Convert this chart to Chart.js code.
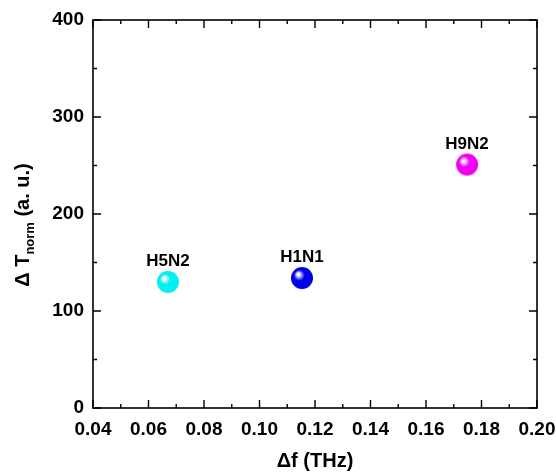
<!DOCTYPE html>
<html>
<head>
<meta charset="utf-8">
<script src="https://cdn.jsdelivr.net/npm/chart.js@4"></script>
<style>
  html, body { margin: 0; padding: 0; background: #fff; }
  #wrap { width: 556px; height: 473px; }
</style>
</head>
<body>
<div id="wrap"><canvas id="grafico" width="556" height="473"></canvas></div>
<script>
// dados
const strains = ["H5N2", "H1N1", "H9N2"];
const deltaF = [0.067, 0.1153, 0.1748];
const deltaT = [130, 134, 251];
const strainColors = ["#00f0f0", "#0000e6", "#f000f0"];
const xTicks = [0.04, 0.06, 0.08, 0.10, 0.12, 0.14, 0.16, 0.18, 0.20];
const yTicks = [0, 100, 200, 300, 400];

const FONT = "'Liberation Sans', Arial, sans-serif";

// esfera com brilho
function sphere(color) {
  const r = 11;
  const c = document.createElement("canvas");
  c.width = r * 2 + 2;
  c.height = r * 2 + 2;
  const g = c.getContext("2d");
  const cx = r + 1, cy = r + 1;
  const grad = g.createRadialGradient(cx - 4, cy - 4, 0, cx - 1, cy - 1, r + 1);
  grad.addColorStop(0, "#ffffff");
  grad.addColorStop(0.12, "#f4f4ff");
  grad.addColorStop(0.45, color);
  grad.addColorStop(1, color);
  g.fillStyle = grad;
  g.beginPath();
  g.arc(cx, cy, r, 0, Math.PI * 2);
  g.fill();
  return c;
}

// moldura e marcas internas
const frame = {
  id: "frame",
  afterDraw(chart) {
    const { ctx, chartArea: a, scales } = chart;
    ctx.save();
    ctx.strokeStyle = "#000";
    ctx.lineWidth = 1.6;
    ctx.strokeRect(a.left, a.top, a.right - a.left, a.bottom - a.top);
    ctx.lineWidth = 1.4;
    ctx.beginPath();
    xTicks.forEach((v, i) => {
      const px = scales.x.getPixelForValue(v);
      ctx.moveTo(px, a.bottom); ctx.lineTo(px, a.bottom - 8);
      ctx.moveTo(px, a.top); ctx.lineTo(px, a.top + 8);
      if (i < xTicks.length - 1) {
        const m = scales.x.getPixelForValue((v + xTicks[i + 1]) / 2);
        ctx.moveTo(m, a.bottom); ctx.lineTo(m, a.bottom - 4);
        ctx.moveTo(m, a.top); ctx.lineTo(m, a.top + 4);
      }
    });
    yTicks.forEach((v, i) => {
      const py = scales.y.getPixelForValue(v);
      ctx.moveTo(a.left, py); ctx.lineTo(a.left + 8, py);
      ctx.moveTo(a.right, py); ctx.lineTo(a.right - 8, py);
      if (i < yTicks.length - 1) {
        const m = scales.y.getPixelForValue((v + yTicks[i + 1]) / 2);
        ctx.moveTo(a.left, m); ctx.lineTo(a.left + 4, m);
        ctx.moveTo(a.right, m); ctx.lineTo(a.right - 4, m);
      }
    });
    ctx.stroke();

    // rótulos dos pontos
    ctx.fillStyle = "#000";
    ctx.font = "bold 17px " + FONT;
    ctx.textAlign = "center";
    ctx.textBaseline = "alphabetic";
    strains.forEach((s, i) => {
      const px = scales.x.getPixelForValue(deltaF[i]);
      const py = scales.y.getPixelForValue(deltaT[i]);
      ctx.fillText(s, px, py - 16);
    });

    // título do eixo x
    ctx.font = "bold 20px " + FONT;
    ctx.textBaseline = "middle";
    ctx.fillText("\u0394f (THz)", (a.left + a.right) / 2, 461);

    // título do eixo y com subscrito
    ctx.translate(23, (a.top + a.bottom) / 2 + 11);
    ctx.rotate(-Math.PI / 2);
    const p1 = "\u0394 T", p2 = "norm", p3 = " (a. u.)";
    const big = "bold 20px " + FONT, small = "bold 13px " + FONT;
    ctx.font = big; const w1 = ctx.measureText(p1).width; const w3 = ctx.measureText(p3).width;
    ctx.font = small; const w2 = ctx.measureText(p2).width;
    let x0 = -(w1 + w2 + w3) / 2;
    ctx.textAlign = "left";
    ctx.font = big; ctx.fillText(p1, x0, 0);
    ctx.font = small; ctx.fillText(p2, x0 + w1, 7);
    ctx.font = big; ctx.fillText(p3, x0 + w1 + w2, 0);
    ctx.restore();
  }
};

const config = {
  type: "scatter",
  data: {
    datasets: [{
      label: "cepas",
      data: deltaF.map((x, i) => ({ x: x, y: deltaT[i] })),
      pointStyle: strainColors.map(sphere),
      pointRadius: 11,
      pointHoverRadius: 11,
    }],
  },
  options: {
    responsive: false,
    animation: false,
    layout: { padding: { top: 20, right: 19, left: 0, bottom: 0 } },
    plugins: { legend: { display: false }, tooltip: { enabled: false } },
    scales: {
      x: {
        type: "linear",
        min: 0.04,
        max: 0.20,
        afterBuildTicks: (s) => { s.ticks = xTicks.map((v) => ({ value: v })); },
        afterFit: (s) => { s.height = 65; s.paddingLeft = 0; s.paddingRight = 0; },
        grid: { display: false, drawTicks: false },
        border: { display: false },
        ticks: {
          padding: 10,
          color: "#000",
          font: { family: FONT, size: 19, weight: "bold" },
          maxRotation: 0,
          callback: (v) => v.toFixed(2),
        },
      },
      y: {
        min: 0,
        max: 400,
        afterBuildTicks: (s) => { s.ticks = yTicks.map((v) => ({ value: v })); },
        afterFit: (s) => { s.width = 93; s.paddingTop = 0; s.paddingBottom = 0; },
        grid: { display: false, drawTicks: false },
        border: { display: false },
        ticks: {
          padding: 9,
          color: "#000",
          font: { family: FONT, size: 19, weight: "bold" },
        },
      },
    },
  },
  plugins: [frame],
};

const meuGrafico = new Chart(document.getElementById("grafico"), config);
</script>
</body>
</html>
